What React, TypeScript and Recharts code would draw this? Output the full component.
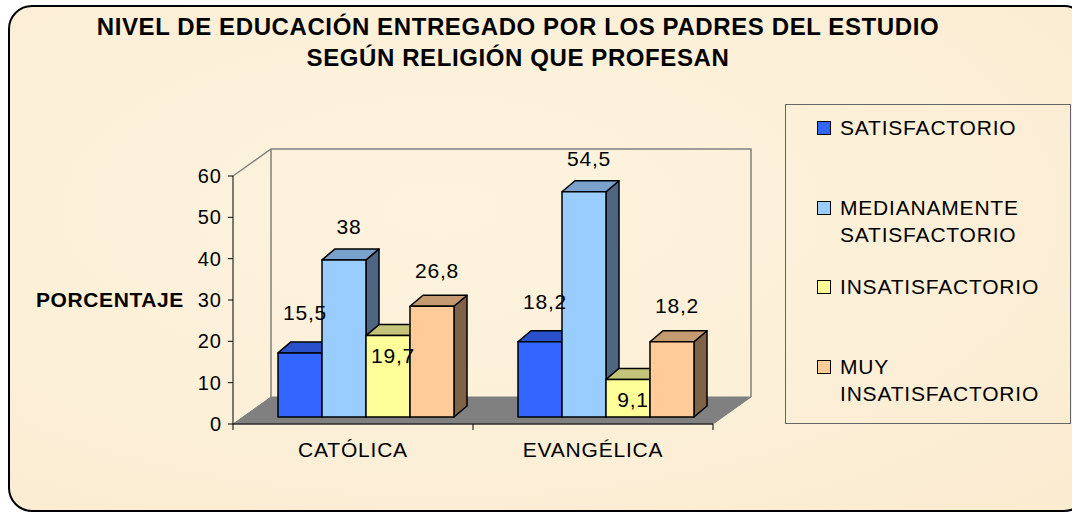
import React from 'react';
import {
  BarChart,
  Bar,
  XAxis,
  YAxis,
  Legend,
  LabelList,
  Label,
  ReferenceArea,
} from 'recharts';

const religions = ['CATÓLICA', 'EVANGÉLICA'];
const satisfactorio = [15.5, 18.2];
const medianamente = [38, 54.5];
const insatisfactorio = [19.7, 9.1];
const muyInsatisfactorio = [26.8, 18.2];
const yTicks = [0, 10, 20, 30, 40, 50, 60];

const data = religions.map((religion, i) => ({
  religion,
  sat: satisfactorio[i],
  med: medianamente[i],
  ins: insatisfactorio[i],
  muy: muyInsatisfactorio[i],
}));

const FONT = '"Liberation Sans", Arial, sans-serif';

// 3d look: bars sit a bit behind the front plane, walls further back
const FRONT_DX = 12;
const FRONT_DY = -7;
const DEPTH_X = 13;
const DEPTH_Y = 11;
const WALL_X = 38;
const WALL_Y = 27;

const series = [
  { key: 'sat', name: 'SATISFACTORIO', front: '#3366ff', top: '#2a50cc', side: '#1f3a99', labelDy: -40 },
  { key: 'med', name: 'MEDIANAMENTE SATISFACTORIO', front: '#99ccff', top: '#7aa2cc', side: '#4f6682', labelDy: -33 },
  { key: 'ins', name: 'INSATISFACTORIO', front: '#ffff99', top: '#c4c47a', side: '#80804d', labelDy: 20 },
  { key: 'muy', name: 'MUY INSATISFACTORIO', front: '#ffcc99', top: '#c49a70', side: '#806248', labelDy: -36 },
];
const seriesOrder = series.map((s) => s.name);

const Box3D = (props: any) => {
  const { x, y, width, height, front, top, side } = props;
  if (height == null || width == null) return null;
  const fx = x + FRONT_DX;
  const fy = y + FRONT_DY;
  const w = width;
  const h = height;
  const topPts = `${fx},${fy} ${fx + DEPTH_X},${fy - DEPTH_Y} ${fx + w + DEPTH_X},${fy - DEPTH_Y} ${fx + w},${fy}`;
  const sidePts = `${fx + w},${fy} ${fx + w + DEPTH_X},${fy - DEPTH_Y} ${fx + w + DEPTH_X},${fy + h - DEPTH_Y} ${fx + w},${fy + h}`;
  return (
    <g stroke="#000" strokeWidth={1.5} strokeLinejoin="round">
      <polygon points={sidePts} fill={side} />
      <polygon points={topPts} fill={top} />
      <rect x={fx} y={fy} width={w} height={h} fill={front} />
    </g>
  );
};

const Frame = (props: any) => {
  const { x, y, width, height } = props;
  const bottom = y + height;
  const right = x + width;
  const step = width / religions.length;
  const ticks = religions.map((_, i) => x + step * i).concat(right);
  return (
    <g>
      <polyline
        points={`${x},${y} ${x + WALL_X},${y - WALL_Y} ${right + WALL_X},${y - WALL_Y} ${right + WALL_X},${bottom - WALL_Y}`}
        fill="none"
        stroke="#808080"
        strokeWidth={1.5}
      />
      <line x1={x + WALL_X} y1={y - WALL_Y} x2={x + WALL_X} y2={bottom - WALL_Y} stroke="#808080" strokeWidth={1.5} />
      <polygon
        points={`${x},${bottom} ${x + WALL_X},${bottom - WALL_Y} ${right + WALL_X},${bottom - WALL_Y} ${right},${bottom}`}
        fill="#808080"
        stroke="#808080"
      />
      {ticks.map((tx) => (
        <line key={tx} x1={tx} y1={bottom} x2={tx} y2={bottom + 6} stroke="#000" strokeWidth={1} />
      ))}
    </g>
  );
};

const makeLabel = (dy: number) => (props: any) => {
  const { x, y, width, value } = props;
  if (value == null) return null;
  return (
    <text
      x={x + FRONT_DX + width / 2 + 5}
      y={y + FRONT_DY + dy}
      textAnchor="middle"
      dominantBaseline="central"
      fontFamily={FONT}
      fontSize={21}
      letterSpacing={0.8}
      fill="#000"
    >
      {String(value).replace('.', ',')}
    </text>
  );
};

const renderLegend = (props: any) => {
  const items = [...(props.payload || [])].sort(
    (a: any, b: any) => seriesOrder.indexOf(a.value) - seriesOrder.indexOf(b.value),
  );
  return (
    <div
      style={{
        width: 286,
        height: 320,
        border: '1.5px solid #666',
        boxSizing: 'border-box',
        paddingTop: 9,
        fontFamily: FONT,
      }}
    >
      {items.map((entry: any) => (
        <div key={entry.value} style={{ height: 79.5, display: 'flex', alignItems: 'flex-start' }}>
          <span
            style={{
              display: 'inline-block',
              flex: 'none',
              width: 14,
              height: 14,
              marginLeft: 31,
              marginTop: 7,
              background: entry.color,
              border: '1px solid #000',
              boxSizing: 'border-box',
            }}
          />
          <span
            style={{
              marginLeft: 9,
              width: 228,
              fontSize: 21,
              letterSpacing: 0.8,
              lineHeight: '27.5px',
              color: '#000',
            }}
          >
            {entry.value}
          </span>
        </div>
      ))}
    </div>
  );
};

export default function App() {
  return (
    <div style={{ position: 'absolute', left: 0, top: 0, width: 1072, height: 515, overflow: 'hidden', background: '#fff' }}>
      <div
        style={{
          position: 'absolute',
          left: 8,
          top: 5,
          width: 1080,
          height: 507,
          boxSizing: 'border-box',
          border: '2px solid #000',
          borderRadius: 24,
          background: 'radial-gradient(ellipse at 40% 40%, #fdf3de 0%, #fcefd7 60%, #faebd0 100%)',
        }}
      />
      <div
        style={{
          position: 'absolute',
          left: 0,
          top: 11,
          width: 1036,
          textAlign: 'center',
          fontFamily: FONT,
          fontWeight: 'bold',
          fontSize: 24,
          letterSpacing: 0.6,
          lineHeight: '31px',
          color: '#000',
        }}
      >
        NIVEL DE EDUCACIÓN ENTREGADO POR LOS PADRES DEL ESTUDIO
        <br />
        SEGÚN RELIGIÓN QUE PROFESAN
      </div>
      <div style={{ position: 'absolute', left: 0, top: 0 }}>
        <BarChart
          width={1072}
          height={515}
          data={data}
          margin={{ top: 176, right: 359, bottom: 61, left: 33 }}
          barCategoryGap="13.75%"
          barGap={0}
        >
          <ReferenceArea y1={0} y2={60} shape={<Frame />} />
          <XAxis
            dataKey="religion"
            height={30}
            tickLine={false}
            axisLine={{ stroke: '#000', strokeWidth: 1 }}
            tickMargin={12}
            tick={{ fill: '#000', fontSize: 21, fontFamily: FONT, letterSpacing: 0.8 }}
          />
          <YAxis
            width={200}
            domain={[0, 60]}
            ticks={yTicks}
            interval={0}
            tickSize={5}
            tickMargin={6}
            axisLine={{ stroke: '#000', strokeWidth: 1 }}
            tickLine={{ stroke: '#000' }}
            tick={{ fill: '#000', fontSize: 20, fontFamily: FONT, letterSpacing: 1 }}
          >
            <Label
              value="PORCENTAJE"
              position="insideLeft"
              offset={3}
              style={{ fill: '#000', fontSize: 21, fontWeight: 'bold', fontFamily: FONT, letterSpacing: 0.6 }}
            />
          </YAxis>
          <Legend
            layout="vertical"
            align="center"
            verticalAlign="middle"
            content={renderLegend}
            wrapperStyle={{ left: 785, top: 104, width: 286, height: 320 }}
          />
          {series.map((s) => (
            <Bar
              key={s.key}
              dataKey={s.key}
              name={s.name}
              fill={s.front}
              isAnimationActive={false}
              shape={(p: any) => <Box3D {...p} front={s.front} top={s.top} side={s.side} />}
            >
              <LabelList dataKey={s.key} content={makeLabel(s.labelDy)} />
            </Bar>
          ))}
        </BarChart>
      </div>
    </div>
  );
}
